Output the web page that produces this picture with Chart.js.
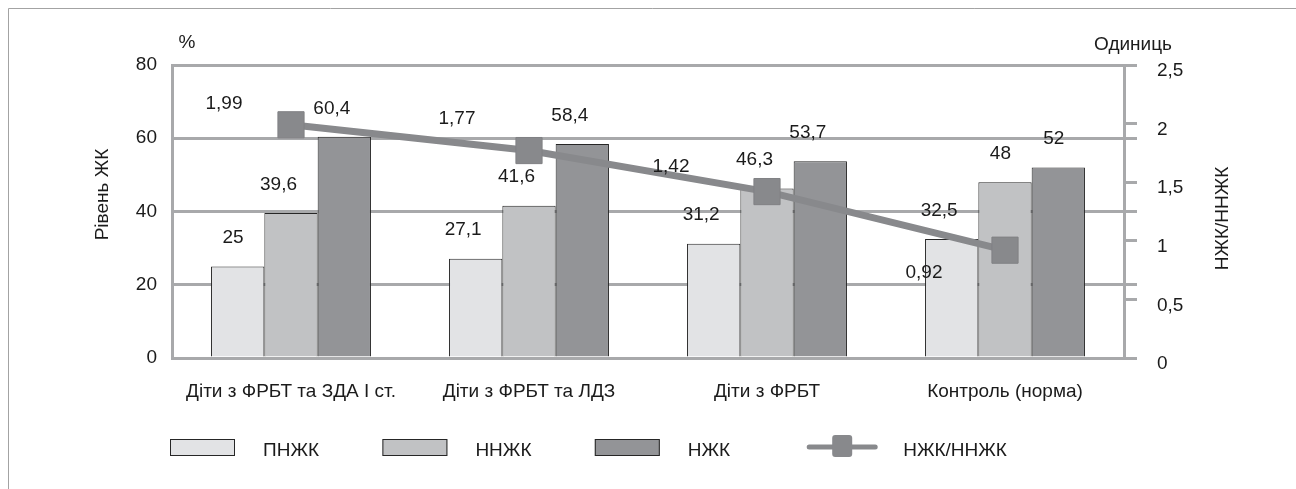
<!DOCTYPE html>
<html>
<head>
<meta charset="utf-8">
<script src="https://cdn.jsdelivr.net/npm/chart.js@4.4.1/dist/chart.umd.min.js"></script>
<style>
  html, body { margin: 0; padding: 0; background: #fff; }
  #wrap { width: 1296px; height: 489px; position: relative; }
  canvas { display: block; }
</style>
</head>
<body>
<div id="wrap"><canvas id="c" width="1296" height="489"></canvas></div>
<script>
// ---- data ----
const categories = ['Діти з ФРБТ та ЗДА І ст.', 'Діти з ФРБТ та ЛДЗ', 'Діти з ФРБТ', 'Контроль (норма)'];
const seriesNames = ['ПНЖК', 'ННЖК', 'НЖК', 'НЖК/ННЖК'];
const pnzhk = [25, 27.1, 31.2, 32.5];
const nnzhk = [39.6, 41.6, 46.3, 48];
const nzhk  = [60.4, 58.4, 53.7, 52];
const ratio = [1.99, 1.77, 1.42, 0.92];
const leftTicks  = [0, 20, 40, 60, 80];
const rightTicks = [0, 0.5, 1, 1.5, 2, 2.5];
const leftTitle = 'Рівень ЖК';
const leftUnit = '%';
const rightTitle = 'НЖК/ННЖК';
const rightUnit = 'Одиниць';

// ---- styles ----
const FONT = "'Liberation Sans', Arial, Helvetica, sans-serif";
const FS = 19;
const TXT = '#1b1b1b';
const GRID = '#a8a9ab';
const barColors = ['#e2e3e5', '#c1c2c4', '#939497'];
const BAR_BORDER = '#262626';
const LINE_COL = '#88898c';
// manual label shifts for the line labels (dx, dy from the point)
const lineLabelShift = [[-67, -21], [-72, -32], [-96, -25], [-81, 23]];

const fmt = v => String(v).replace('.', ',');
const leftMax = leftTicks[leftTicks.length - 1];
const rightMax = rightTicks[rightTicks.length - 1];

const decorPlugin = {
  id: 'decor',
  beforeDraw(chart) {
    const ctx = chart.ctx;
    ctx.save();
    ctx.fillStyle = '#fff';
    ctx.fillRect(0, 0, chart.width, chart.height);
    ctx.strokeStyle = '#a3a3a3';
    ctx.lineWidth = 1;
    ctx.beginPath();
    ctx.moveTo(8.5, chart.height);
    ctx.lineTo(8.5, 8.5);
    ctx.lineTo(chart.width, 8.5);
    ctx.stroke();
    ctx.restore();
  },
  afterDatasetsDraw(chart) {
    const ctx = chart.ctx;
    const ca = chart.chartArea;
    ctx.save();
    ctx.fillStyle = TXT;
    ctx.font = FS + 'px ' + FONT;
    ctx.textBaseline = 'middle';
    // value labels
    chart.data.datasets.forEach((ds, di) => {
      const meta = chart.getDatasetMeta(di);
      if (ds.type === 'line') {
        ctx.textAlign = 'center';
        meta.data.forEach((pt, i) => {
          const s = lineLabelShift[i];
          ctx.fillText(fmt(ds.data[i]), pt.x + s[0], pt.y + s[1]);
        });
      } else {
        ctx.textAlign = 'right';
        meta.data.forEach((bar, i) => {
          ctx.fillText(fmt(ds.data[i]), bar.x + 6, bar.y - 28.5);
        });
      }
    });
    // axis titles
    ctx.textAlign = 'center';
    ctx.fillText(leftUnit, ca.left + 15, ca.top - 22);
    ctx.fillText(rightUnit, ca.right + 9, ca.top - 20);
    ctx.save();
    ctx.translate(ca.left - 69, (ca.top + ca.bottom) / 2 - 17);
    ctx.rotate(-Math.PI / 2);
    ctx.fillText(leftTitle, 0, 0);
    ctx.restore();
    ctx.save();
    ctx.translate(ca.right + 99, (ca.top + ca.bottom) / 2 + 7);
    ctx.rotate(-Math.PI / 2);
    ctx.fillText(rightTitle, 0, 0);
    ctx.restore();

    // legend
    const ly = 447;
    const x0 = 170, stride = 212.4, textGap = 93;
    ctx.textAlign = 'left';
    for (let i = 0; i < 4; i++) {
      const ix = x0 + i * stride;
      if (i < 3) {
        ctx.fillStyle = barColors[i];
        ctx.fillRect(ix, ly - 8, 65, 17);
        ctx.strokeStyle = BAR_BORDER;
        ctx.lineWidth = 1;
        ctx.strokeRect(ix + 0.5, ly - 7.5, 64, 16);
      } else {
        ctx.strokeStyle = LINE_COL;
        ctx.lineWidth = 5;
        ctx.lineCap = 'round';
        ctx.beginPath();
        ctx.moveTo(ix + 2, ly);
        ctx.lineTo(ix + 68, ly);
        ctx.stroke();
        ctx.fillStyle = LINE_COL;
        ctx.beginPath();
        ctx.roundRect(ix + 25, ly - 12, 20, 22, 3);
        ctx.fill();
      }
      ctx.fillStyle = TXT;
      ctx.fillText(seriesNames[i], ix + textGap + (i === 3 ? 3 : 0), ly + 3.5);
    }
    ctx.restore();
  }
};

const ctx = document.getElementById('c').getContext('2d');
new Chart(ctx, {
  data: {
    labels: categories,
    datasets: [
      { type: 'line', label: seriesNames[3], data: ratio, yAxisID: 'y2', order: 0,
        borderColor: LINE_COL, borderWidth: 7, pointStyle: 'rect', pointRadius: 18.5,
        pointHoverRadius: 18.5, pointBackgroundColor: LINE_COL, pointBorderColor: '#808184',
        pointBorderWidth: 1, tension: 0, fill: false },
      { type: 'bar', label: seriesNames[0], data: pnzhk, yAxisID: 'y', order: 1,
        backgroundColor: barColors[0], borderColor: BAR_BORDER, borderWidth: 1 },
      { type: 'bar', label: seriesNames[1], data: nnzhk, yAxisID: 'y', order: 1,
        backgroundColor: barColors[1], borderColor: BAR_BORDER, borderWidth: 1 },
      { type: 'bar', label: seriesNames[2], data: nzhk, yAxisID: 'y', order: 1,
        backgroundColor: barColors[2], borderColor: BAR_BORDER, borderWidth: 1 }
    ]
  },
  options: {
    responsive: false,
    animation: false,
    devicePixelRatio: 1,
    layout: { padding: { top: 65, left: 0, right: 0, bottom: 0 } },
    datasets: { bar: { categoryPercentage: 0.672, barPercentage: 1.0 } },
    plugins: { legend: { display: false }, tooltip: { enabled: false } },
    scales: {
      x: {
        grid: { display: false, drawTicks: false },
        border: { display: false },
        ticks: { color: TXT, font: { family: FONT, size: FS }, padding: 22, maxRotation: 0 },
        afterFit: s => { s.height = 131; }
      },
      y: {
        position: 'left', min: 0, max: leftMax,
        afterBuildTicks: s => { s.ticks = leftTicks.map(v => ({ value: v })); },
        grid: { color: GRID, lineWidth: 3, drawTicks: false },
        border: { display: true, color: GRID, width: 3 },
        ticks: { color: TXT, font: { family: FONT, size: FS }, padding: 15, callback: v => fmt(v) },
        afterFit: s => { s.width = 172; }
      },
      y2: {
        position: 'right', min: 0, max: rightMax,
        afterBuildTicks: s => {
          const vals = rightTicks.concat(leftTicks.map(v => v / leftMax * rightMax));
          const uniq = [...new Set(vals.map(v => +v.toFixed(4)))].sort((a, b) => a - b);
          s.ticks = uniq.map(v => ({ value: v }));
        },
        grid: { color: GRID, lineWidth: 3, drawOnChartArea: false, drawTicks: true, tickLength: 13 },
        border: { display: true, color: GRID, width: 3 },
        ticks: { color: TXT, font: { family: FONT, size: FS }, padding: 20, labelOffset: 6,
          callback: v => rightTicks.some(t => Math.abs(t - v) < 1e-6) ? fmt(v) : '' },
        afterFit: s => { s.width = 172; }
      }
    }
  },
  plugins: [decorPlugin]
});
</script>
</body>
</html>
